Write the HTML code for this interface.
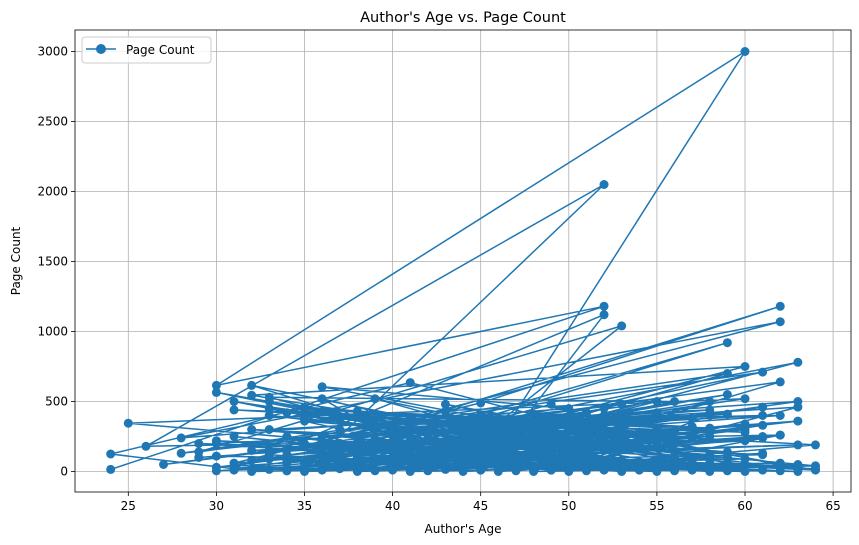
<!DOCTYPE html>
<html><head><meta charset="utf-8"><style>
html,body{margin:0;padding:0;background:#fff;}
svg{display:block;font-family:"DejaVu Sans","Liberation Sans",sans-serif;}
</style></head><body>
<svg id="chart" width="859" height="545" viewBox="0 0 859 545">
<rect x="0" y="0" width="859" height="545" fill="#fff"/>
<g id="grid"></g>
<g id="series"></g>
<g id="axes"></g>
<text x="463" y="22" text-anchor="middle" font-size="14.5" fill="#000">Author's Age vs. Page Count</text>
<text x="463" y="533" text-anchor="middle" font-size="12" fill="#000">Author's Age</text>
<text x="20" y="261" text-anchor="middle" font-size="12" fill="#000" transform="rotate(-90 20 261)">Page Count</text>
<g>
<rect x="82" y="37" width="129" height="26" rx="3" fill="#fff" fill-opacity="0.8" stroke="#ccc"/>
<line x1="86" y1="49" x2="116" y2="49" stroke="#1f77b4" stroke-width="1.5"/>
<circle cx="101" cy="49" r="5" fill="#1f77b4"/>
<text x="126" y="54" font-size="12" fill="#000">Page Count</text>
</g>
</svg>
<script>
const xTicks=[25,30,35,40,45,50,55,60,65];
const yTicks=[0,500,1000,1500,2000,2500,3000];
const ages=[24,52,30,60,45,33,62,28,50,36,58,41,24,31,55,47,39,63,35,52,26,44,60,32,57,49,38,61,29,53,46,34,59,42,30,54,37,64,48,33,56,40,51,27,62,45,35,58,43,31,52,47,36,60,25,50,39,63,44,32,55,41,57,30,49,34,61,46,38,53,28,59,42,36,51,64,33,48,56,40,62,45,31,54,37,58,50,29,44,60,35,52,47,39,63,32,55,43,57,30,49,41,61,36,53,46,34,59,38,52,62,48,33,56,42,60,45,31,54,37,50,63,40,58,35,47,53,44,61,32,57,39,51,46,36,64,43,59,49,34,55,41,62,30,52,45,38,60,48,33,56,42,53,47,37,63,50,35,58,44,61,40,54,46,
30,50,31,57,32,48,33,62,34,45,35,60,36,51,37,55,38,44,39,59,40,52,41,63,42,49,43,56,44,61,45,53,46,58,47,50,48,64,49,54,50,31,51,40,52,35,53,42,54,38,55,46,56,33,57,43,58,37,59,47,60,34,61,41,62,36,63,44,64,30,
29,46,32,52,34,58,37,49,40,55,43,61,46,53,48,57,51,33,54,39,56,42,59,36,62,45,63,41,60,38,57,44,53,47,50,35,52,40,55,48,
33,51,36,55,39,58,42,61,45,50,48,53,35,57,38,60,41,62,44,52,47,56,34,54,37,59,40,49,43,51,46,55,31,58,49,45,52,39,55,42];
const pages=[15,1180,615,3000,30,120,1070,240,450,605,80,635,125,20,400,60,300,500,10,2050,180,220,750,545,30,480,100,710,140,1040,350,5,920,260,565,40,380,190,20,530,500,90,420,50,640,10,460,250,130,20,1120,300,90,520,345,70,200,780,150,615,30,220,380,200,10,160,330,40,240,480,130,700,90,520,60,40,400,180,20,320,1180,490,60,270,50,400,30,200,130,50,450,300,200,10,360,80,500,120,250,30,330,160,460,20,200,380,60,550,90,30,260,120,450,200,20,340,150,500,70,200,30,460,280,120,360,20,400,80,120,300,40,520,100,210,170,10,480,60,30,250,20,380,30,220,10,400,170,300,120,500,20,280,80,30,200,20,360,60,500,30,250,40,280,90,
5,150,10,80,0,200,15,60,5,120,0,90,10,180,20,70,0,140,5,100,10,220,0,50,5,160,15,80,0,130,10,60,0,110,5,90,0,40,10,170,0,250,5,100,15,180,0,140,10,70,0,160,5,90,10,130,0,200,5,120,0,80,10,150,5,60,0,100,20,110,
100,250,150,300,120,280,200,260,90,300,170,240,60,280,130,320,200,150,180,230,110,300,140,210,260,120,190,80,220,160,240,100,180,270,110,200,150,90,230,120,
300,420,250,380,330,440,270,400,350,310,410,260,390,320,430,280,360,400,240,450,340,290,420,370,300,410,260,350,430,320,380,270,440,310,360,250,400,330,420,290];
const X0=75,X1=851,Y0=30,Y1=492;
const xs=v=>128.3+(v-25)*17.62;
const ys=v=>471.5-v*0.14;
const NS="http://www.w3.org/2000/svg";
const grid=document.getElementById('grid'),axes=document.getElementById('axes'),ser=document.getElementById('series');
function mk(tag,at,parent){const e=document.createElementNS(NS,tag);for(const k in at)e.setAttribute(k,at[k]);parent.appendChild(e);return e;}
xTicks.forEach(t=>{const x=xs(t);
const g=mk('line',{x1:x,x2:x,y1:Y0,y2:Y1,stroke:'#b0b0b0','stroke-width':0.8},grid);


mk('line',{x1:x,x2:x,y1:Y1,y2:Y1+4,stroke:'#000','stroke-width':0.8},axes);
const l=mk('text',{x:x,y:Y1+18,'text-anchor':'middle','font-size':12,fill:'#000'},axes);l.textContent=t;

});
yTicks.forEach(t=>{const y=ys(t);
const g=mk('line',{x1:X0,x2:X1,y1:y,y2:y,stroke:'#b0b0b0','stroke-width':0.8},grid);


mk('line',{x1:X0-4,x2:X0,y1:y,y2:y,stroke:'#000','stroke-width':0.8},axes);
const l=mk('text',{x:X0-7,y:y+4,'text-anchor':'end','font-size':12,fill:'#000'},axes);l.textContent=t;

});
const fr=mk('rect',{x:X0,y:Y0,width:X1-X0,height:Y1-Y0,fill:'none',stroke:'#000','stroke-width':0.8},axes);


const pts=ages.map((a,i)=>xs(a)+','+ys(pages[i])).join(' ');
const pl=mk('polyline',{points:pts,fill:'none',stroke:'#1f77b4','stroke-width':1.5},ser);


ages.forEach((a,i)=>{const c=mk('circle',{cx:xs(a),cy:ys(pages[i]),r:4.5,fill:'#1f77b4'},ser);

});
</script>
</body></html>
